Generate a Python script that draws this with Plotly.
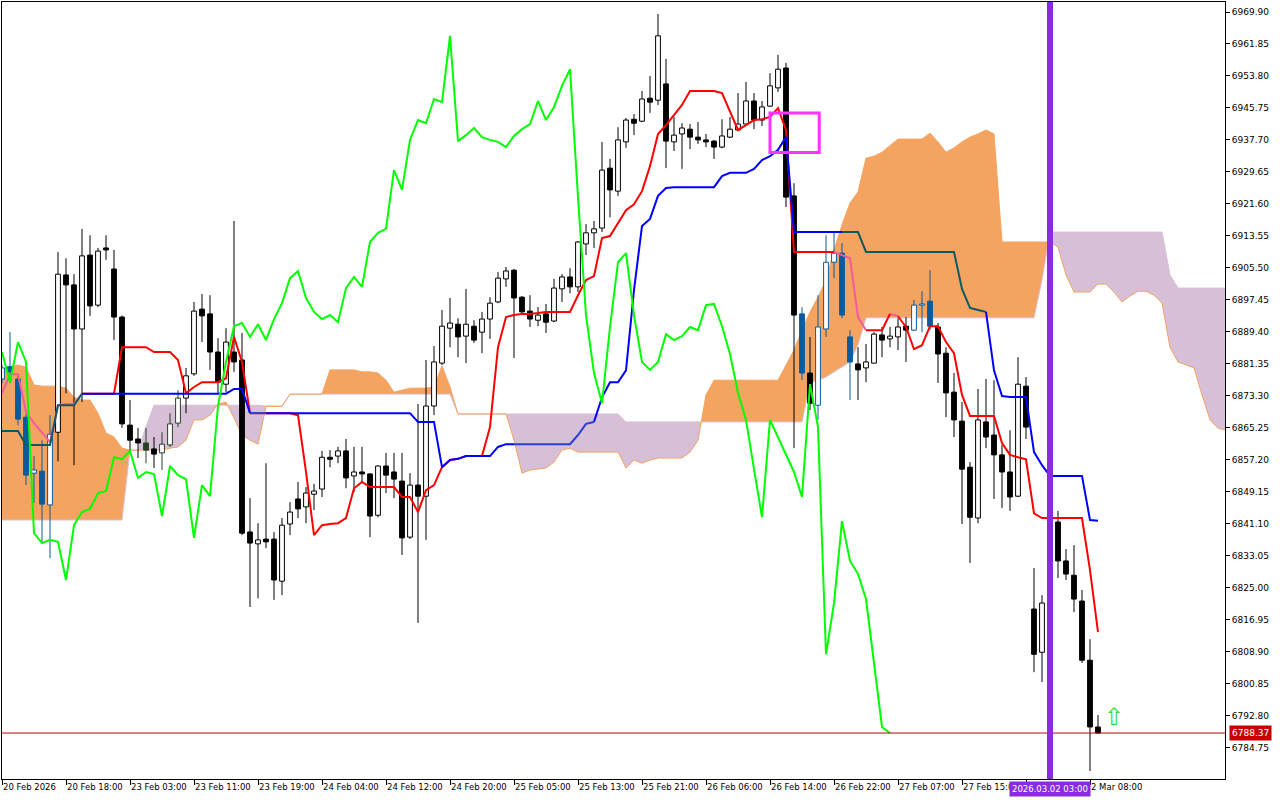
import plotly.graph_objects as go

# ---------------- data ----------------
bars = list(range(138))

opens = [6877.5, 6880.6, 6877.5, 6867.9, 6853.8, 6854.3, 6845.8, 6864.1, 6903.7, 6901.2,
         6890.1, 6908.7, 6896.1, 6910.5, 6905.2, 6893.1, 6865.9, 6862.4, 6861.4, 6859.9,
         6858.9, 6860.9, 6866.4, 6872.7, 6878.8, 6895.1, 6893.9, 6884.3, 6876.2, 6884.3,
         6882.3, 6839.0, 6836.0, 6837.2, 6837.2, 6826.6, 6841.0, 6847.3, 6845.3, 6848.5,
         6849.8, 6857.8, 6858.1, 6859.4, 6853.1, 6854.1, 6853.6, 6843.2, 6855.6, 6854.1,
         6851.8, 6837.7, 6850.8, 6848.0, 6870.7, 6881.5, 6890.3, 6891.3, 6888.3, 6890.8,
         6889.3, 6892.6, 6896.9, 6902.7, 6904.9, 6898.1, 6894.6, 6892.3, 6893.9, 6892.1,
         6900.2, 6903.2, 6900.7, 6911.5, 6914.3, 6915.5, 6930.6, 6924.8, 6937.2, 6942.9,
         6942.4, 6948.2, 6947.7, 6951.8, 6937.2, 6939.2, 6940.4, 6938.4, 6937.7, 6937.4,
         6935.9, 6938.4, 6940.2, 6941.7, 6947.5, 6942.7, 6946.2, 6950.8, 6955.8, 6923.6,
         6893.9, 6879.0, 6870.9, 6890.1, 6906.9, 6909.2, 6888.1, 6881.3, 6880.3, 6881.5,
         6888.6, 6887.6, 6888.1, 6890.8, 6889.8, 6896.1, 6897.1, 6890.6, 6884.0, 6874.2,
         6866.9, 6855.3, 6842.5, 6866.7, 6863.4, 6858.4, 6854.1, 6848.0, 6875.7, 6819.6,
         6808.7, 6821.1, 6841.5, 6831.7, 6828.1, 6821.6, 6806.7, 6789.9]

highs = [6881.0, 6889.3, 6878.3, 6868.7, 6858.1, 6862.1, 6868.4, 6909.5, 6907.9, 6903.9,
         6915.3, 6913.7, 6910.5, 6913.7, 6910.0, 6893.5, 6872.2, 6865.2, 6865.2, 6862.9,
         6864.1, 6868.9, 6874.7, 6880.3, 6896.9, 6898.9, 6898.6, 6887.8, 6890.3, 6917.3,
         6889.1, 6847.5, 6841.2, 6856.3, 6839.0, 6842.5, 6846.5, 6851.6, 6850.3, 6851.1,
         6859.4, 6859.6, 6860.4, 6862.4, 6860.4, 6860.4, 6853.8, 6855.8, 6858.9, 6858.9,
         6858.9, 6853.8, 6871.2, 6882.3, 6885.8, 6894.9, 6897.9, 6892.8, 6900.2, 6892.3,
         6894.4, 6898.1, 6904.4, 6905.7, 6905.2, 6898.4, 6898.6, 6895.6, 6896.4, 6902.7,
         6903.9, 6905.4, 6912.2, 6916.5, 6917.3, 6937.2, 6932.9, 6940.9, 6943.2, 6944.2,
         6950.0, 6953.8, 6969.4, 6958.1, 6943.5, 6941.9, 6941.7, 6942.2, 6939.2, 6937.7,
         6942.9, 6943.5, 6949.5, 6952.3, 6949.5, 6947.5, 6954.5, 6959.1, 6957.1, 6926.8,
         6895.6, 6888.1, 6898.6, 6913.7, 6914.3, 6911.7, 6889.8, 6885.5, 6886.3, 6889.3,
         6890.6, 6890.6, 6892.8, 6893.1, 6897.4, 6899.6, 6904.9, 6891.6, 6885.5, 6879.0,
         6871.7, 6856.6, 6875.0, 6877.5, 6877.2, 6860.9, 6864.6, 6883.0, 6878.0, 6829.9,
         6823.1, 6843.2, 6844.3, 6834.7, 6835.7, 6824.4, 6812.0, 6792.9]

lows = [6876.5, 6876.5, 6865.9, 6850.8, 6846.3, 6836.2, 6832.4, 6856.8, 6873.9, 6855.8,
        6871.7, 6893.4, 6895.6, 6907.5, 6887.3, 6865.2, 6858.9, 6857.6, 6856.3, 6855.1,
        6854.6, 6860.4, 6865.4, 6868.9, 6878.3, 6886.8, 6879.8, 6873.9, 6874.2, 6879.3,
        6838.2, 6820.1, 6822.3, 6834.9, 6821.9, 6823.1, 6838.2, 6842.5, 6841.2, 6844.5,
        6847.8, 6855.3, 6856.3, 6850.0, 6849.0, 6851.3, 6837.7, 6842.7, 6848.8, 6847.5,
        6833.2, 6837.2, 6816.1, 6837.0, 6868.4, 6881.0, 6885.5, 6883.0, 6881.5, 6886.6,
        6884.0, 6887.6, 6896.6, 6900.7, 6882.8, 6893.6, 6890.6, 6890.8, 6889.1, 6891.8,
        6896.9, 6899.1, 6899.4, 6908.7, 6910.5, 6914.5, 6918.2, 6923.6, 6935.7, 6938.9,
        6942.2, 6944.5, 6946.5, 6930.6, 6934.9, 6930.4, 6935.4, 6936.7, 6935.9, 6932.9,
        6935.6, 6938.2, 6939.9, 6941.4, 6940.4, 6941.2, 6946.0, 6949.8, 6920.8, 6860.1,
        6877.2, 6869.7, 6867.2, 6888.1, 6902.9, 6892.8, 6872.2, 6872.2, 6876.7, 6881.5,
        6883.0, 6885.5, 6884.8, 6881.8, 6889.6, 6889.3, 6889.8, 6876.5, 6867.9, 6862.9,
        6841.0, 6831.2, 6841.2, 6860.1, 6847.3, 6845.0, 6844.3, 6847.8, 6862.4, 6803.7,
        6801.2, 6820.3, 6827.4, 6826.9, 6818.8, 6806.0, 6778.8, 6788.3]

closes = [6880.3, 6879.3, 6867.4, 6853.3, 6854.6, 6846.0, 6863.6, 6903.9, 6901.2, 6890.1,
          6908.5, 6895.9, 6909.7, 6910.0, 6893.1, 6866.2, 6862.1, 6861.4, 6859.6, 6858.6,
          6861.1, 6866.2, 6872.7, 6878.3, 6894.6, 6893.4, 6884.3, 6876.7, 6886.8, 6881.8,
          6838.7, 6836.2, 6837.0, 6836.5, 6826.9, 6840.7, 6844.0, 6844.8, 6848.8, 6849.3,
          6857.8, 6857.3, 6859.4, 6852.6, 6854.1, 6853.6, 6843.0, 6855.6, 6853.3, 6852.3,
          6837.5, 6850.8, 6848.0, 6870.7, 6881.8, 6890.8, 6891.6, 6888.1, 6891.3, 6887.3,
          6892.6, 6896.6, 6902.9, 6904.7, 6897.9, 6894.4, 6892.6, 6893.6, 6891.8, 6900.4,
          6903.2, 6900.7, 6912.0, 6914.3, 6915.3, 6930.1, 6925.1, 6937.7, 6942.7, 6941.9,
          6948.0, 6947.2, 6963.9, 6937.4, 6938.9, 6940.7, 6938.4, 6937.7, 6937.2, 6935.9,
          6938.7, 6940.4, 6941.7, 6947.5, 6942.7, 6946.0, 6951.3, 6955.5, 6923.3, 6893.6,
          6879.0, 6871.4, 6890.6, 6906.9, 6909.2, 6893.6, 6881.8, 6879.8, 6881.8, 6888.8,
          6887.3, 6888.3, 6890.6, 6889.8, 6896.1, 6896.4, 6890.8, 6883.8, 6874.0, 6867.2,
          6854.8, 6842.7, 6867.2, 6862.9, 6858.4, 6854.1, 6847.8, 6876.2, 6865.4, 6808.2,
          6821.1, 6841.7, 6831.7, 6828.4, 6822.1, 6806.7, 6789.9, 6788.37]

tenkan = [6873.9, 6878.7, 6878.7, 6869.2, 6866.4, 6863.9, 6861.6, 6870.9, 6871.2, 6871.2,
          6873.8, 6873.8, 6873.8, 6873.8, 6873.8, 6885.5, 6885.5, 6885.5, 6885.5, 6884.3,
          6884.3, 6884.3, 6882.3, 6873.9, 6875.5, 6876.7, 6876.7, 6876.7, 6877.7, 6888.1,
          6881.8, 6868.9, 6868.9, 6868.9, 6868.9, 6868.9, 6868.9, 6868.4, 6854.1, 6838.2,
          6840.7, 6841.0, 6841.2, 6842.5, 6850.0, 6851.6, 6850.3, 6850.3, 6850.3, 6850.3,
          6847.8, 6847.8, 6844.0, 6849.5, 6850.8, 6855.3, 6857.1, 6857.4, 6858.1, 6858.1,
          6858.1, 6865.4, 6885.5, 6893.1, 6893.6, 6893.9, 6893.9, 6894.1, 6894.4, 6894.4,
          6894.4, 6894.4, 6898.6, 6902.4, 6903.4, 6913.0, 6913.5, 6916.8, 6920.0, 6921.5,
          6924.8, 6931.1, 6939.2, 6941.4, 6944.0, 6946.5, 6950.0, 6950.0, 6950.0, 6950.0,
          6949.5, 6944.7, 6940.2, 6941.4, 6942.7, 6942.9, 6943.5, 6945.7, 6940.2, 6909.5,
          6909.5, 6909.5, 6909.5, 6909.5, 6909.5, 6908.7, 6907.9, 6893.1, 6889.8, 6889.8,
          6889.8, 6893.9, 6893.3, 6890.6, 6885.0, 6886.0, 6890.8, 6890.8, 6886.8, 6884.0,
          6873.5, 6868.2, 6868.2, 6868.2, 6868.2, 6861.4, 6858.4, 6857.8, 6857.3, 6843.7,
          6842.5, 6842.5, 6842.5, 6842.5, 6842.5, 6842.5, 6829.4, 6813.8]

kijun = [6864.4, 6864.4, 6864.4, 6860.9, 6860.9, 6860.9, 6860.9, 6870.9, 6870.9, 6870.9,
         6873.8, 6873.8, 6873.8, 6873.8, 6873.8, 6873.8, 6873.8, 6873.8, 6873.8, 6873.8,
         6873.8, 6873.8, 6873.8, 6873.8, 6873.8, 6873.8, 6873.8, 6873.8, 6873.8, 6875.0,
         6875.0, 6868.9, 6868.9, 6868.9, 6868.9, 6868.9, 6868.9, 6868.9, 6868.9, 6868.9,
         6868.9, 6868.9, 6868.9, 6868.9, 6868.9, 6868.9, 6868.9, 6868.9, 6868.9, 6868.9,
         6868.9, 6868.9, 6866.7, 6866.7, 6866.7, 6855.3, 6857.1, 6857.4, 6858.1, 6858.1,
         6858.1, 6858.1, 6860.4, 6861.1, 6861.1, 6861.1, 6861.1, 6861.1, 6861.1, 6861.1,
         6861.1, 6861.1, 6863.4, 6866.2, 6866.7, 6872.9, 6876.7, 6876.7, 6879.7, 6899.9,
         6916.0, 6917.8, 6923.6, 6925.6, 6925.8, 6925.8, 6925.8, 6925.8, 6925.8, 6925.8,
         6928.6, 6929.4, 6929.4, 6929.4, 6930.4, 6932.6, 6933.6, 6935.2, 6938.4, 6914.5,
         6914.5, 6914.5, 6914.5, 6914.5, 6914.5, 6914.5, 6914.5, 6914.5, 6909.5, 6909.5,
         6909.5, 6909.5, 6909.5, 6909.5, 6909.5, 6909.5, 6909.5, 6909.5, 6909.5, 6909.5,
         6900.2, 6895.4, 6894.9, 6894.4, 6879.7, 6873.2, 6873.0, 6873.0, 6873.0, 6859.1,
         6855.8, 6853.1, 6853.1, 6853.1, 6853.1, 6853.1, 6842.0, 6841.8]

# Chikou span: plotted 26 bars back (bars 0..111)
chikou = [6884.3, 6876.7, 6886.8, 6881.8,
          6838.7, 6836.2, 6837.0, 6836.5, 6826.9, 6840.7, 6844.0, 6844.8, 6848.8, 6849.3,
          6857.8, 6857.3, 6859.4, 6852.6, 6854.1, 6853.6, 6843.0, 6855.6, 6853.3, 6852.3,
          6837.5, 6850.8, 6848.0, 6870.7, 6881.8, 6890.8, 6891.6, 6888.1, 6891.3, 6887.3,
          6892.6, 6896.6, 6902.9, 6904.7, 6897.9, 6894.4, 6892.6, 6893.6, 6891.8, 6900.4,
          6903.2, 6900.7, 6912.0, 6914.3, 6915.3, 6930.1, 6925.1, 6937.7, 6942.7, 6941.9,
          6948.0, 6947.2, 6963.9, 6937.4, 6938.9, 6940.7, 6938.4, 6937.7, 6937.2, 6935.9,
          6938.7, 6940.4, 6941.7, 6947.5, 6942.7, 6946.0, 6951.3, 6955.5, 6923.3, 6893.6,
          6879.0, 6871.4, 6890.6, 6906.9, 6909.2, 6893.6, 6881.8, 6879.8, 6881.8, 6888.8,
          6887.3, 6888.3, 6890.6, 6889.8, 6896.1, 6896.4, 6890.8, 6883.8, 6874.0, 6867.2,
          6854.8, 6842.7, 6867.2, 6862.9, 6858.4, 6854.1, 6847.8, 6876.2, 6865.4, 6808.2,
          6821.1, 6841.7, 6831.7, 6828.4, 6822.1, 6806.7, 6789.9, 6788.37]
chikou_bars = list(range(112))

# Senkou spans (extend 26 bars into the future)
span_bars = list(range(154))
span_a = [6879.8, 6880.5, 6881.0, 6880.5, 6876.0, 6875.7, 6875.7, 6875.7, 6875.2, 6872.9,
          6872.2, 6872.2, 6868.9, 6863.9, 6862.9, 6860.1, 6859.6, 6859.6, 6859.6, 6859.6,
          6859.6, 6860.1, 6860.4, 6862.1, 6867.2, 6867.2, 6868.4, 6871.2, 6871.7, 6867.7,
          6863.4, 6862.1, 6861.1, 6870.6, 6870.6, 6870.6, 6873.7, 6873.7, 6873.7, 6873.7,
          6873.7, 6879.8, 6879.8, 6879.8, 6879.8, 6879.3, 6879.3, 6879.0, 6877.2, 6874.2,
          6874.7, 6875.2, 6875.2, 6875.2, 6875.5, 6880.8, 6875.5, 6868.7, 6868.7, 6868.7,
          6868.7, 6868.7, 6868.7, 6868.7, 6862.1, 6853.8, 6854.6, 6854.8, 6855.1, 6856.6,
          6859.6, 6860.1, 6859.1, 6859.1, 6859.1, 6859.1, 6859.1, 6859.1, 6855.1, 6857.1,
          6856.3, 6857.1, 6857.6, 6857.6, 6857.6, 6857.6, 6859.1, 6862.1, 6873.5, 6877.2,
          6877.2, 6877.2, 6877.2, 6877.2, 6877.2, 6877.2, 6877.2, 6877.2, 6881.0, 6884.8,
          6889.8, 6894.4, 6898.1, 6902.4, 6910.0, 6916.3, 6921.8, 6924.6, 6933.1, 6933.6,
          6934.6, 6936.2, 6937.9, 6937.9, 6937.9, 6937.9, 6939.4, 6937.2, 6934.6, 6935.7,
          6937.2, 6938.4, 6939.2, 6940.2, 6939.2, 6912.0, 6912.0, 6912.0, 6912.0, 6912.0,
          6912.0, 6912.0, 6910.7, 6903.7, 6899.4, 6899.4, 6899.4, 6901.4, 6901.4, 6899.4,
          6896.9, 6898.4, 6899.6, 6899.6, 6898.6, 6896.6, 6885.5, 6881.8, 6881.0, 6880.3,
          6873.5, 6867.2, 6865.1, 6864.6]
span_b = [6842.0, 6842.0, 6842.0, 6842.0, 6842.0, 6842.0, 6842.0, 6842.0, 6842.0, 6842.0,
          6842.0, 6842.0, 6842.0, 6842.0, 6842.0, 6842.0, 6859.6, 6859.6, 6865.4, 6870.9,
          6870.9, 6870.9, 6870.9, 6870.9, 6870.9, 6870.9, 6870.9, 6870.9, 6870.9, 6870.9,
          6870.9, 6870.9, 6870.9, 6870.7, 6870.7, 6870.7, 6873.7, 6873.7, 6873.7, 6873.7,
          6873.7, 6873.7, 6873.7, 6873.7, 6873.7, 6873.7, 6873.7, 6873.7, 6873.7, 6873.7,
          6873.7, 6873.7, 6873.7, 6873.7, 6873.7, 6873.7, 6873.7, 6868.7, 6868.7, 6868.7,
          6868.7, 6868.7, 6868.7, 6868.7, 6868.7, 6868.7, 6868.7, 6868.7, 6868.7, 6868.7,
          6868.7, 6868.7, 6868.7, 6868.7, 6868.7, 6868.7, 6868.7, 6868.7, 6866.7, 6866.7,
          6866.7, 6866.7, 6866.7, 6866.7, 6866.7, 6866.7, 6866.7, 6866.7, 6866.7, 6866.7,
          6866.7, 6866.7, 6866.7, 6866.7, 6866.7, 6866.7, 6866.7, 6866.7, 6866.7, 6866.7,
          6866.7, 6876.5, 6877.2, 6878.0, 6879.3, 6880.5, 6881.8, 6886.1, 6892.9, 6892.9,
          6892.9, 6892.9, 6892.9, 6892.9, 6892.9, 6892.9, 6892.9, 6892.9, 6892.9, 6892.9,
          6892.9, 6892.9, 6892.9, 6892.9, 6892.9, 6892.9, 6892.9, 6892.9, 6892.9, 6892.9,
          6902.4, 6914.5, 6914.5, 6914.5, 6914.5, 6914.5, 6914.5, 6914.5, 6914.5, 6914.5,
          6914.5, 6914.5, 6914.5, 6914.5, 6914.5, 6914.5, 6903.7, 6900.4, 6900.4, 6900.4,
          6900.4, 6900.4, 6900.4, 6900.4]

x_tick_bars = [0, 8, 16, 24, 32, 40, 48, 56, 64, 72, 80, 88, 96, 104, 112, 120, 128, 136]
x_tick_text = ["20 Feb 2026", "20 Feb 18:00", "23 Feb 03:00", "23 Feb 11:00", "23 Feb 19:00",
               "24 Feb 04:00", "24 Feb 12:00", "24 Feb 20:00", "25 Feb 05:00", "25 Feb 13:00",
               "25 Feb 21:00", "26 Feb 06:00", "26 Feb 14:00", "26 Feb 22:00", "27 Feb 07:00",
               "27 Feb 15:00", "", "2 Mar 08:00"]
y_tick_text = ["6969.90", "6961.85", "6953.80", "6945.75", "6937.70", "6929.65", "6921.60",
               "6913.55", "6905.50", "6897.45", "6889.40", "6881.35", "6873.30", "6865.25",
               "6857.20", "6849.15", "6841.10", "6833.05", "6825.00", "6816.95", "6808.90",
               "6800.85", "6792.80", "6784.75"]
y_tick_vals = [float(t) for t in y_tick_text]

last_price = 6788.37
last_price_text = "6788.37"
vline_bar = 131
vline_text = "2026.03.02 03:00"
box_bar0, box_bar1 = 96.0, 102.15
box_price_top, box_price_bottom = 6944.5, 6934.5
arrow_bar, arrow_price = 139.0, 6792.4

X_RANGE = [0, 152.875]
Y_RANGE = [6776.80, 6972.42]

# ---------------- colours ----------------
ORANGE = "#F4A460"
THISTLE = "#D8BFD8"
CANDLE = "#000000"
CANDLE_IN_ORANGE = "#0B5B9F"
CANDLE_IN_PURPLE = "#274027"
TENKAN, TENKAN_O, TENKAN_P = "#FF0000", "#F45B9F", "#D84027"
KIJUN, KIJUN_O, KIJUN_P = "#0000FF", "#0B5B60", "#2740D8"
CHIKOU = "#00FF00"
VIOLET = "#8A2BE2"
FONT = "DejaVu Sans"


def cloud_state(x, v):
    k = int(x)
    t = x - k
    if k >= len(span_a) - 1:
        k, t = len(span_a) - 2, 1.0
    a = span_a[k] + t * (span_a[k + 1] - span_a[k])
    b = span_b[k] + t * (span_b[k + 1] - span_b[k])
    if min(a, b) < v < max(a, b):
        return 1 if a > b else -1
    return 0


def colored_runs(xs, vals, cols):
    runs = []
    for i in range(len(xs) - 1):
        s = cloud_state((xs[i] + xs[i + 1]) / 2, (vals[i] + vals[i + 1]) / 2)
        col = cols[s]
        if runs and runs[-1][0] == col:
            runs[-1][1].append(xs[i + 1])
            runs[-1][2].append(vals[i + 1])
        else:
            runs.append((col, [xs[i], xs[i + 1]], [vals[i], vals[i + 1]]))
    grouped = {}
    for col, rx, ry in runs:
        gx, gy = grouped.setdefault(col, ([], []))
        gx.extend(rx + [None])
        gy.extend(ry + [None])
    return grouped


def cloud_polygons(xs, a, b):
    polys = []
    cur, cur_s = [], 0
    for k in range(len(xs) - 1):
        d0, d1 = a[k] - b[k], a[k + 1] - b[k + 1]
        p0 = (xs[k], a[k], b[k])
        p1 = (xs[k + 1], a[k + 1], b[k + 1])
        if d0 * d1 < 0:
            t = d0 / (d0 - d1)
            xc = xs[k] + t * (xs[k + 1] - xs[k])
            yc = a[k] + t * (a[k + 1] - a[k])
            pc = (xc, yc, yc)
            pieces = [(1 if d0 > 0 else -1, p0, pc), (1 if d1 > 0 else -1, pc, p1)]
        else:
            s = d0 + d1
            pieces = [((s > 0) - (s < 0), p0, p1)]
        for s, q0, q1 in pieces:
            if s == 0:
                if len(cur) > 1:
                    polys.append((cur_s, cur))
                cur, cur_s = [], 0
                continue
            if s != cur_s:
                if len(cur) > 1:
                    polys.append((cur_s, cur))
                cur, cur_s = [q0], s
            cur.append(q1)
    if len(cur) > 1:
        polys.append((cur_s, cur))
    return polys


fig = go.Figure()

# ---- cloud (base axes, drawn below everything) ----
fills = {1: ([], []), -1: ([], [])}
for s, pts in cloud_polygons(span_bars, span_a, span_b):
    px = [p[0] for p in pts] + [p[0] for p in reversed(pts)]
    py = [p[1] for p in pts] + [p[2] for p in reversed(pts)]
    fills[s][0].extend(px + [px[0], None])
    fills[s][1].extend(py + [py[0], None])
for s, col in ((1, ORANGE), (-1, THISTLE)):
    fig.add_trace(go.Scatter(x=fills[s][0], y=fills[s][1], mode="lines", fill="toself",
                             fillcolor=col, line=dict(width=0, color=col), hoverinfo="skip"))
fig.add_trace(go.Scatter(x=span_bars, y=span_b, mode="lines", line=dict(color=THISTLE, width=1),
                         hoverinfo="skip"))
fig.add_trace(go.Scatter(x=span_bars, y=span_a, mode="lines", line=dict(color=ORANGE, width=1),
                         hoverinfo="skip"))

# ---- candles (overlay axes) ----
body_lo = [min(o, c) for o, c in zip(opens, closes)]
body_h = [max(abs(c - o), 0.25) for o, c in zip(opens, closes)]
states = [cloud_state(k, (o + c) / 2) for k, o, c in zip(bars, opens, closes)]
edge = [{0: CANDLE, 1: CANDLE_IN_ORANGE, -1: CANDLE_IN_PURPLE}[s] for s in states]
fillc = ["#FFFFFF" if c >= o else e for o, c, e in zip(opens, closes, edge)]

wick = {}
for k in bars:
    lo, hi = body_lo[k], body_lo[k] + body_h[k]
    wx, wy = wick.setdefault(edge[k], ([], []))
    if lows[k] < lo:
        wx.extend([k, k, None]); wy.extend([lows[k], lo, None])
    if highs[k] > hi:
        wx.extend([k, k, None]); wy.extend([hi, highs[k], None])
for col, (wx, wy) in wick.items():
    fig.add_trace(go.Scatter(x=wx, y=wy, mode="lines", line=dict(color=col, width=1),
                             xaxis="x2", yaxis="y2", hoverinfo="skip"))

fig.add_trace(go.Bar(x=bars, y=body_h, base=body_lo, width=0.6,
                     marker=dict(color=fillc, line=dict(color=edge, width=1)),
                     xaxis="x2", yaxis="y2", hoverinfo="skip"))

# ---- Ichimoku lines ----
for vals, cols in ((tenkan, {0: TENKAN, 1: TENKAN_O, -1: TENKAN_P}),
                   (kijun, {0: KIJUN, 1: KIJUN_O, -1: KIJUN_P})):
    for col, (gx, gy) in colored_runs(bars, vals, cols).items():
        fig.add_trace(go.Scatter(x=gx, y=gy, mode="lines", line=dict(color=col, width=2),
                                 xaxis="x2", yaxis="y2", hoverinfo="skip"))
fig.add_trace(go.Scatter(x=chikou_bars, y=chikou, mode="lines", line=dict(color=CHIKOU, width=2),
                         xaxis="x2", yaxis="y2", hoverinfo="skip"))

# ---- objects ----
shapes = [
    dict(type="line", xref="paper", yref="y", x0=0, x1=1, y0=last_price, y1=last_price,
         line=dict(color="#C00000", width=1), layer="above"),
    dict(type="line", xref="x", yref="paper", x0=vline_bar, x1=vline_bar, y0=0, y1=1,
         line=dict(color=VIOLET, width=6), layer="above"),
    dict(type="rect", xref="x", yref="y", x0=box_bar0, x1=box_bar1,
         y0=box_price_bottom, y1=box_price_top, line=dict(color="#FF33FF", width=3),
         fillcolor="rgba(0,0,0,0)", layer="above"),
]

annotations = []
for b, t in zip(x_tick_bars, x_tick_text):
    if t:
        annotations.append(dict(x=b, y=0, xref="x", yref="paper", text=t, showarrow=False,
                                xanchor="left", yanchor="top", yshift=-2, borderpad=0,
                                font=dict(family=FONT, size=8.5, color="black")))
annotations.append(dict(x=vline_bar, y=0, xref="x", yref="paper", text=vline_text,
                        showarrow=False, xanchor="center", yanchor="top", yshift=-2,
                        bgcolor=VIOLET, borderpad=2,
                        font=dict(family=FONT, size=8.5, color="white")))
annotations.append(dict(x=1, y=last_price, xref="paper", yref="y", text=last_price_text,
                        showarrow=False, xanchor="left", yanchor="middle", xshift=4,
                        bgcolor="#C80000", borderpad=2,
                        font=dict(family=FONT, size=9, color="white")))
annotations.append(dict(x=arrow_bar, y=arrow_price, xref="x", yref="y", text="⇧",
                        showarrow=False, xanchor="center", yanchor="middle",
                        font=dict(family=FONT, size=24, color="#33DD33")))

fig.update_layout(
    width=1280, height=800,
    margin=dict(l=2, r=55, t=2, b=21),
    paper_bgcolor="white", plot_bgcolor="white",
    showlegend=False, barmode="overlay", hovermode=False,
    shapes=shapes, annotations=annotations,
    xaxis=dict(range=X_RANGE, tickvals=x_tick_bars, ticks="outside", ticklen=5,
               tickcolor="black", showticklabels=False, showgrid=False, zeroline=False,
               showline=True, linecolor="black", linewidth=1, mirror=True),
    yaxis=dict(range=Y_RANGE, side="right", tickvals=y_tick_vals, ticktext=y_tick_text,
               ticks="outside", ticklen=4, tickcolor="black",
               tickfont=dict(family=FONT, size=9, color="black"),
               showgrid=False, zeroline=False, showline=True, linecolor="black",
               linewidth=1, mirror=True),
    xaxis2=dict(range=X_RANGE, overlaying="x", anchor="y2", visible=False),
    yaxis2=dict(range=Y_RANGE, overlaying="y", anchor="x2", visible=False),
)

fig.write_html("out.html", config={"displayModeBar": False},
               post_script="document.body.style.margin='0';document.body.style.overflow='hidden';")
